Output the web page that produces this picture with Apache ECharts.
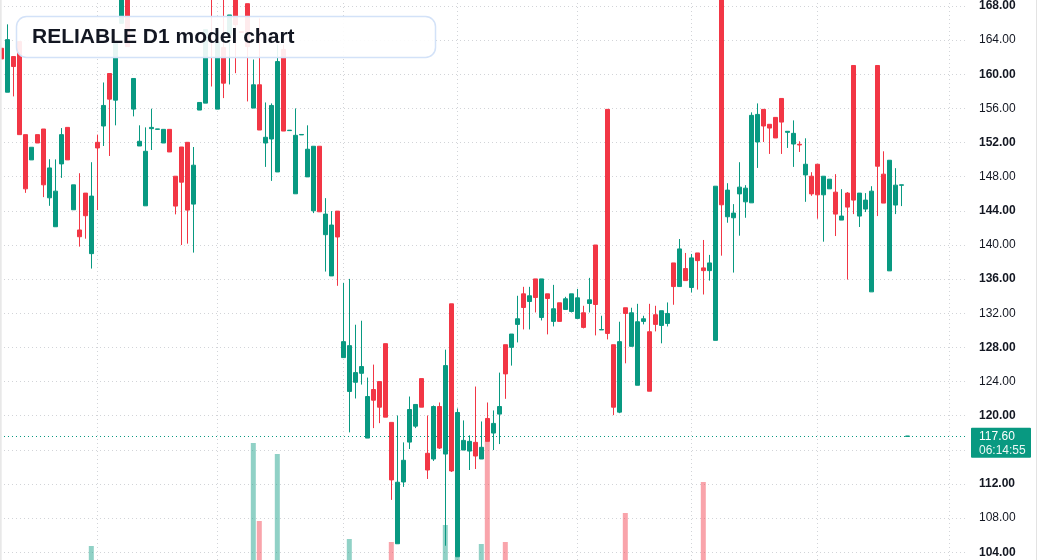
<!DOCTYPE html>
<html><head><meta charset="utf-8">
<script src="https://cdn.jsdelivr.net/npm/echarts@6/dist/echarts.min.js"></script>
<style>html,body{margin:0;padding:0;background:#fff}#c{width:1037px;height:560px}</style>
</head><body><div id="c"></div><script>
const chartTitle = 'RELIABLE D1 model chart';
// [open, close, low, high] per daily bar
const ohlc = [
[163.05,161.8,161.8,163.05],[157.9,164.06,157.9,165.85],[162.08,160.91,157.41,162.08],[163.83,152.93,152.93,163.83],[152.93,146.58,146.11,152.93],
[149.97,151.45,149.97,151.45],[152.93,151.95,151.95,152.93],[153.59,147.05,145.61,153.59],[145.53,149.03,144.59,150.05],[142.14,146.31,142.14,150.03],
[149.5,152.93,147.86,153.7],[153.78,149.97,149.97,153.78],[144.13,147.05,144.13,147.05],[141.76,140.97,139.81,148.41],[146.08,143.43,140.74,146.08],
[138.99,145.73,137.24,149.7],[152.03,151.37,144.09,152.93],[153.94,156.35,151.6,159.04],[160.09,157.09,150.43,160.09],[156.97,163.63,154.02,163.63],
[165.97,170.2,165.97,170.6],[170.0,163.24,163.24,170.5],[155.92,159.51,155.07,159.51],[151.6,152.15,151.6,154.02],[144.59,150.98,144.59,153.78],
[153.63,153.78,151.13,155.97],[153.55,153.6,153.5,153.6],[151.95,153.55,151.95,153.55],[153.55,150.9,150.9,153.55],[148.06,144.56,143.59,148.06],
[151.48,147.36,140.0,151.48],[152.03,144.09,140.16,152.03],[144.79,149.35,139.11,151.48],[155.81,156.7,155.81,156.7],[156.62,165.23,156.62,165.23],
[171.5,169.2,158.57,172.0],[155.92,163.83,155.92,163.83],[163.13,158.96,157.21,169.0],[164.65,166.95,158.81,166.95],[169.5,165.81,160.13,170.0],
[165.0,164.9,164.9,165.0],[168.27,163.24,156.82,168.27],[156.04,158.77,156.04,161.73],[158.77,153.47,153.47,166.55],[151.95,152.62,149.15,156.7],
[152.42,156.35,147.51,156.59],[148.56,161.49,148.56,163.48],[162.89,153.35,153.35,163.48],[153.4,153.45,153.4,153.45],[146.0,152.85,146.0,156.0],
[152.9,152.95,152.9,152.95],[147.98,151.22,147.98,154.02],[144.01,151.57,143.74,151.57],[151.57,143.89,143.89,151.57],[141.21,143.62,136.89,145.49],
[136.38,142.34,136.38,143.97],[143.97,140.94,135.22,143.97],[126.81,128.68,126.81,135.57],[122.84,128.21,118.05,136.03],[123.92,125.05,122.02,130.66],
[124.97,125.76,123.65,131.13],[117.38,122.25,117.38,124.47],[123.07,121.82,118.55,125.99],[124.0,121.0,119.13,124.0],[128.44,119.83,119.83,128.44],
[119.22,112.48,110.14,119.22],[105.0,112.21,105.0,120.03],[112.24,114.78,111.66,116.88],[116.91,120.73,116.1,122.25],[118.78,121.32,118.55,121.32],
[124.35,121.0,121.0,124.35],[115.6,113.64,112.59,120.03],[114.93,121.08,114.7,121.2],[121.08,116.21,116.1,121.55],[115.51,125.87,104.77,127.74],
[133.11,113.53,113.41,133.11],[103.48,120.38,103.48,120.85],[115.98,117.11,115.98,119.45],[115.86,117.0,113.64,117.7],[116.88,115.28,113.76,123.42],
[114.93,116.3,114.93,119.33],[119.68,117.0,117.0,121.55],[117.97,119.1,115.98,120.62],[120.19,121.08,116.68,125.05],[128.32,124.9,121.98,128.32],
[128.01,129.57,125.87,129.57],[130.7,131.36,128.59,134.05],[134.28,132.68,130.11,135.1],[133.38,134.05,130.11,135.1],[136.03,133.85,132.1,136.03],
[131.51,136.03,131.16,136.03],[134.28,133.73,129.53,134.28],[131.05,132.53,130.46,135.33],[133.23,131.05,131.05,133.23],[132.45,133.7,132.45,133.93],
[132.21,134.28,132.1,134.28],[131.4,133.81,131.4,134.86],[132.06,130.35,130.23,132.88],[133.15,133.58,132.1,136.15],[140.0,133.03,129.41,140.0],
[130.05,130.1,130.05,131.71],[155.89,129.64,128.94,155.89],[128.32,121.0,120.07,128.32],[120.42,128.68,120.3,131.01],[132.65,131.98,126.14,132.65],
[128.13,132.06,128.13,132.65],[123.57,131.01,123.57,133.11],[131.05,131.36,130.7,131.71],[129.84,122.87,122.87,133.11],[131.83,130.7,129.88,132.88],
[130.58,132.3,128.48,132.3],[130.81,131.98,130.46,133.27],[137.9,135.13,133.0,137.9],[135.13,139.54,135.13,140.7],[137.24,135.83,135.83,139.07],
[135.02,138.49,134.43,138.95],[139.07,138.17,134.78,139.07],[137.32,137.0,134.2,140.59],[137.0,137.9,135.83,138.84],[128.83,146.89,128.83,146.89],
[171.0,144.71,138.75,171.0],[143.31,146.43,142.61,147.24],[143.19,143.74,136.77,144.79],[145.99,146.78,141.09,149.7],[145.06,146.66,143.19,147.01],
[144.94,155.19,144.94,155.54],[152.07,155.3,149.03,156.59],[155.89,153.94,152.07,155.89],[154.14,153.7,150.67,154.14],[154.95,152.54,152.54,154.95],
[157.17,154.4,150.67,157.17],[153.2,153.32,151.37,153.32],[151.83,153.08,149.15,154.6],[151.8,151.72,150.9,152.15],[148.21,149.46,145.06,152.5],
[148.06,145.99,145.76,148.53],[149.46,145.88,143.08,149.46],[145.88,148.06,140.39,148.06],[146.58,147.71,146.58,147.71],[146.19,143.62,141.05,148.3],
[142.92,143.39,142.92,146.54],[146.08,144.44,135.95,146.2],[161.03,145.26,143.62,161.03],[143.39,146.08,142.11,146.08],[144.21,145.26,143.86,146.08],
[134.51,146.31,134.51,146.89],[161.03,149.23,143.39,161.03],[148.3,144.91,144.91,150.98],[136.97,149.93,136.97,149.93],[144.68,147.01,143.62,149.0],
[147.0,147.05,144.56,147.05],[117.58,117.62,117.58,117.62]
];
// bar indices where a new month starts (vertical grid lines)
const monthStarts = [16,36,57,76,96,115,136,158];
// visible volume bars: bar index and volume
const volIdx = [15,42,43,46,58,65,74,76,80,81,84,104,117];
const volVal = [14,117,39,106,21,18,35,3,16,119,18,47,78];
const priceMin = 104, priceMax = 168, priceStep = 4;
const lastPrice = 117.6;
const countdown = '06:14:55';

const UP = '#089981', DOWN = '#f23645';
const UPV = 'rgba(8,153,129,0.45)', DOWNV = 'rgba(242,54,69,0.45)';
const FONT = '"Liberation Sans", Arial, sans-serif';
const GRID = '#d2d4d8';
const plotW = 968, barStep = 6;
const xMin = -0.2167, xMax = xMin + plotW / barStep;

const candleData = ohlc.map((d, i) => [i, d[0], d[1], d[2], d[3]]);
const volData = volIdx.map((i, k) => ({
  value: [i, volVal[k]],
  itemStyle: { color: ohlc[i][1] >= ohlc[i][0] ? UPV : DOWNV }
}));

const chart = echarts.init(document.getElementById('c'), null, { renderer: 'canvas' });
const hiddenX = (gi) => ({
  type: 'value', gridIndex: gi, min: xMin, max: xMax,
  axisLine: { show: false }, axisTick: { show: false }, axisLabel: { show: false }, splitLine: { show: false }
});
chart.setOption({
  animation: false,
  backgroundColor: '#ffffff',
  grid: [
    { left: 0, top: 4.3, width: plotW, height: 548, containLabel: false },
    { left: 0, top: 0, width: plotW, height: 560, containLabel: false }
  ],
  xAxis: [hiddenX(0), hiddenX(1)],
  yAxis: [
    {
      type: 'value', gridIndex: 0, position: 'right', min: priceMin, max: priceMax, interval: priceStep,
      axisLine: { show: false }, axisTick: { show: false },
      axisLabel: {
        margin: 11, color: '#131722', fontSize: 12, fontFamily: FONT, align: 'left',
        formatter: v => ((v - priceMin) % (priceStep * 2) === 0 ? '{b|' + v.toFixed(2) + '}' : v.toFixed(2)),
        rich: { b: { fontWeight: 'bold', fontSize: 12, fontFamily: FONT, color: '#131722' } }
      },
      splitLine: { show: true, lineStyle: { color: GRID, width: 1, type: [1, 3] } }
    },
    { type: 'value', gridIndex: 1, min: 0, max: 560, show: false, splitLine: { show: false } }
  ],
  series: [
    {
      type: 'bar', xAxisIndex: 1, yAxisIndex: 1, data: volData, barWidth: 5, z: 1, silent: true,
      markLine: {
        silent: true, symbol: ['none', 'none'], z: 0, label: { show: false },
        lineStyle: { color: GRID, width: 1, type: [1, 3] },
        data: monthStarts.map(i => ({ xAxis: i }))
      }
    },
    {
      type: 'candlestick', xAxisIndex: 0, yAxisIndex: 0, data: candleData, barWidth: 4, clip: false, z: 3,
      itemStyle: { color: UP, color0: DOWN, borderColor: UP, borderColor0: DOWN, borderWidth: 1 },
      markLine: {
        silent: true, symbol: ['none', 'none'], z: 2, label: { show: false },
        lineStyle: { color: UP, width: 1, type: [1, 3] },
        data: [{ yAxis: lastPrice }]
      }
    }
  ]
});

const py = chart.convertToPixel({ xAxisIndex: 0, yAxisIndex: 0 }, [0, lastPrice])[1];
chart.setOption({
  graphic: [
    { type: 'rect', z: 100, shape: { x: 0, y: 0, width: 1.7, height: 560 }, style: { fill: '#e8e8e8' } },
    { type: 'rect', z: 100, shape: { x: 1036, y: 0, width: 1, height: 560 }, style: { fill: '#e3e3e3' } },
    {
      type: 'rect', z: 100,
      shape: { x: 16.5, y: 16.5, width: 419, height: 41, r: 10 },
      style: { fill: 'rgba(255,255,255,0.9)', stroke: '#d3e2f8', lineWidth: 1.5 }
    },
    {
      type: 'text', z: 101, x: 32, y: 37.5,
      style: { text: chartTitle, fill: '#131722', fontSize: 21, fontWeight: 'bold', fontFamily: FONT, verticalAlign: 'middle', align: 'left' }
    },
    {
      type: 'rect', z: 100,
      shape: { x: 971, y: py - 8.5, width: 60, height: 30, r: 1 },
      style: { fill: UP }
    },
    {
      type: 'text', z: 101, x: 979, y: py + 0.5,
      style: { text: lastPrice.toFixed(2), fill: '#ffffff', fontSize: 12, fontFamily: FONT, verticalAlign: 'middle', align: 'left' }
    },
    {
      type: 'text', z: 101, x: 979, y: py + 14.5,
      style: { text: countdown, fill: 'rgba(255,255,255,0.92)', fontSize: 12, fontFamily: FONT, verticalAlign: 'middle', align: 'left' }
    }
  ]
});
</script></body></html>
